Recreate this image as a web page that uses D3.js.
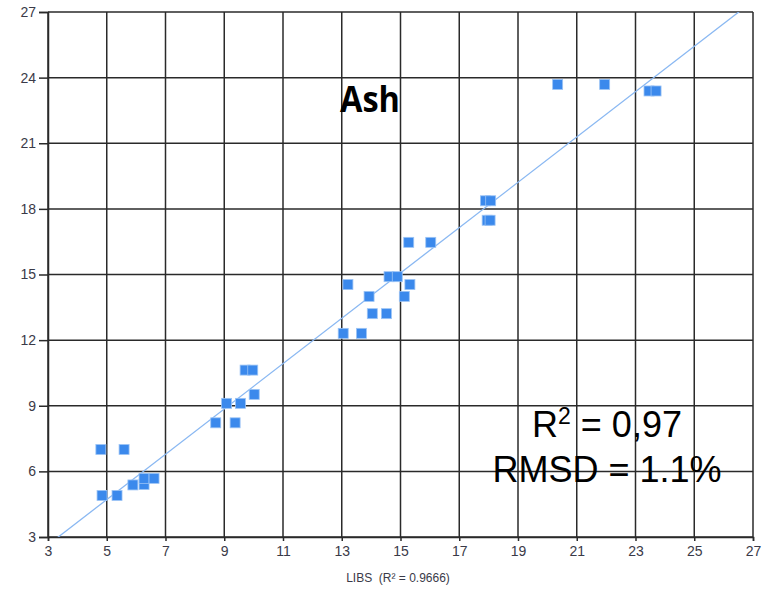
<!DOCTYPE html>
<html>
<head>
<meta charset="utf-8">
<script src="https://cdn.jsdelivr.net/npm/d3@7"></script>
<style>
  body { margin: 0; background: #fff; }
  svg { display: block; }
</style>
</head>
<body>
<div id="paper"></div>
<script>
// ash: libs prediction vs reference value
var libs = [4.80, 5.59, 4.84, 5.35, 5.89, 6.27, 6.27, 6.61, 8.71, 9.37, 9.08, 9.55, 10.02, 9.71, 9.97,
  13.05, 13.67, 14.04, 14.52, 13.93, 15.13, 13.21, 15.32, 14.61, 14.89, 15.28, 16.03,
  17.89, 18.07, 17.95, 18.05, 20.35, 21.95, 23.46, 23.70]
var reference = [7.0, 7.0, 4.9, 4.9, 5.38, 5.4, 5.68, 5.68, 8.22, 8.22, 9.11, 9.11, 9.52, 10.63, 10.63,
  12.31, 12.31, 13.21, 13.21, 14.0, 14.0, 14.54, 14.54, 14.9, 14.9, 16.47, 16.47,
  18.37, 18.37, 17.48, 17.48, 23.69, 23.69, 23.39, 23.39]

var x_ticks = [3, 5, 7, 9, 11, 13, 15, 17, 19, 21, 23, 25, 27]
var y_ticks = [3, 6, 9, 12, 15, 18, 21, 24, 27]

// trend line
var fit_slope = 1.036
var fit_intercept = -0.47

var width = 768, height = 590
// note: can't call it 'top' at global level, window.top is taken
var plot_l = 48, plot_r = 753, plot_t = 12, plot_b = 537

var svg = d3.select('#paper')
  .append('svg')
  .attr('width', width)
  .attr('height', height)

var x = d3.scaleLinear().domain([3, 27]).range([plot_l, plot_r])
var y = d3.scaleLinear().domain([3, 27]).range([plot_b, plot_t])

// grid
svg.append('g')
  .selectAll('line')
  .data(x_ticks)
  .join('line')
  .attr('x1', d => x(d)).attr('x2', d => x(d))
  .attr('y1', plot_t).attr('y2', plot_b)
  .attr('stroke', '#2a2a2a')
  .attr('stroke-width', 1.5)

svg.append('g')
  .selectAll('line')
  .data(y_ticks)
  .join('line')
  .attr('x1', plot_l).attr('x2', plot_r)
  .attr('y1', d => y(d)).attr('y2', d => y(d))
  .attr('stroke', '#2a2a2a')
  .attr('stroke-width', 1.5)

// axes
var xAxis = svg.append('g')
  .attr('transform', `translate(0,${plot_b})`)
  .call(d3.axisBottom(x).tickValues(x_ticks).tickSize(4).tickPadding(5))
var yAxis = svg.append('g')
  .attr('transform', `translate(${plot_l},0)`)
  .call(d3.axisLeft(y).tickValues(y_ticks).tickSize(9).tickPadding(3))

;[xAxis, yAxis].forEach(function(a) {
  a.select('.domain').attr('stroke', '#2a2a2a').attr('stroke-width', 1.5)
  a.selectAll('.tick line').attr('stroke', '#2a2a2a').attr('stroke-width', 1.5)
  a.selectAll('.tick text')
    .attr('fill', '#3a3a48')
    .style('font-family', 'Liberation Sans, Arial, sans-serif')
    .style('font-size', '14px')
})

// trend line, clipped to the plot box
svg.append('clipPath').attr('id', 'plotclip')
  .append('rect')
  .attr('x', plot_l).attr('y', plot_t)
  .attr('width', plot_r - plot_l).attr('height', plot_b - plot_t)

svg.append('line')
  .attr('clip-path', 'url(#plotclip)')
  .attr('x1', x(3)).attr('y1', y(fit_intercept + fit_slope * 3))
  .attr('x2', x(27)).attr('y2', y(fit_intercept + fit_slope * 27))
  .attr('stroke', '#8ab8f2')
  .attr('stroke-width', 1.3)

// points
var sq = 10
svg.append('g')
  .selectAll('rect')
  .data(libs)
  .join('rect')
  .attr('x', (d, i) => x(d) - sq / 2)
  .attr('y', (d, i) => y(reference[i]) - sq / 2)
  .attr('width', sq)
  .attr('height', sq)
  .attr('fill', '#3b89ec')
  .attr('stroke', '#9cc4f5')
  .attr('stroke-width', 0.8)

// labels
svg.append('text')
  .attr('x', 370).attr('y', 112)
  .attr('text-anchor', 'middle')
  .style('font-family', 'Open Sans, sans-serif')
  .style('font-weight', 'bold')
  .style('font-size', '36px')
  .attr('textLength', 60)
  .attr('lengthAdjust', 'spacingAndGlyphs')
  .text('Ash')

var r2 = svg.append('text')
  .attr('x', 607).attr('y', 437)
  .attr('text-anchor', 'middle')
  .style('font-family', 'Liberation Sans, Arial, sans-serif')
  .style('font-size', '36px')
r2.append('tspan').text('R')
r2.append('tspan').attr('dy', -13).style('font-size', '23px').text('2')
r2.append('tspan').attr('dy', 13).text(' = 0,97')

svg.append('text')
  .attr('x', 607).attr('y', 482)
  .attr('text-anchor', 'middle')
  .style('font-family', 'Liberation Sans, Arial, sans-serif')
  .style('font-size', '36px')
  .text('RMSD = 1.1%')

svg.append('text')
  .attr('x', 398).attr('y', 582)
  .attr('text-anchor', 'middle')
  .attr('fill', '#3a3a48')
  .style('font-family', 'Liberation Sans, Arial, sans-serif')
  .style('font-size', '12px')
  .style('white-space', 'pre')
  .text('LIBS  (R² = 0.9666)')
</script>
</body>
</html>
